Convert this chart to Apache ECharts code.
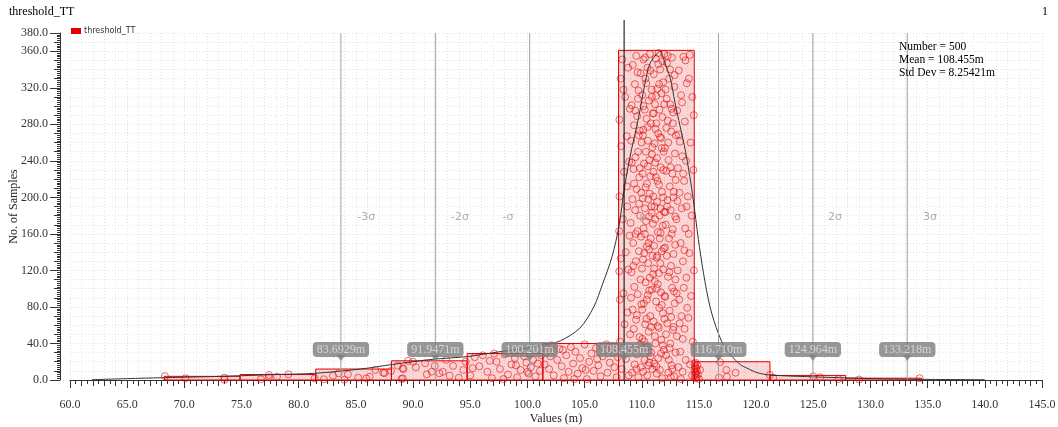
<!DOCTYPE html>
<html>
<head>
<meta charset="utf-8">
<script src="https://cdn.jsdelivr.net/npm/echarts@6/dist/echarts.min.js"></script>
<style>
html,body{margin:0;padding:0;background:#fff;}
#chart{width:1058px;height:427px;}
</style>
</head>
<body>
<div id="chart"></div>
<script>
// ---------------- data ----------------
const chartTitle = 'threshold_TT';
const pageNumber = '1';
const seriesName = 'threshold_TT';
const statsLines = ['Number = 500', 'Mean = 108.455m', 'Std Dev = 8.25421m'];

const binEdges = [68.25, 74.87, 81.49, 88.11, 94.73, 101.35, 107.97, 114.59, 121.21, 127.83, 134.45];
const binCounts = [4, 6, 12, 21, 29, 40, 361, 20, 5, 2];

const sigmaValues = [83.6929, 91.9471, 100.201, 108.455, 116.710, 124.964, 133.218];
const sigmaValueLabels = ['83.6929m', '91.9471m', '100.201m', '108.455m', '116.710m', '124.964m', '133.218m'];
const sigmaNames = ['-3σ', '-2σ', '-σ', 'μ', 'σ', '2σ', '3σ'];
const sigmaNameX = [85.9, 94.1, 98.3, 110.1, 118.4, 126.9, 135.2];
const sigmaNameY = 178;
const sigmaTagY = 33.5;
const sigmaPointerY = 24.0;

const xMin = 60, xMax = 145, xStep = 5;
const yMin = 0, yMax = 380, yStep = 40;

const densityCurve = [
  [61.9,0.3],[65,1.5],[68,2.5],[72,3.6],[75,4.7],[78,6],[81.4,7.3],[85.4,12],[88.2,17],
  [91.75,22.7],[94.7,25.6],[97.6,31],[100,35],[101.4,38],[102.9,43],[104.6,57],[105.8,80],
  [106.6,106],[107.4,135],[108.0,168],[108.5,212],[109.1,252],[109.7,286],[110.3,326],
  [110.7,346],[111.3,357],[111.6,360],[112.0,348],[112.5,330],[112.9,304],[113.35,278],
  [113.8,252],[114.2,223],[114.5,198],[114.95,154],[115.4,117],[115.97,80],[116.7,51],
  [117.4,33],[118.6,17],[119.2,13],[120.1,8],[121.2,5.5],[124.4,3.7],[130.2,1.5],[134.6,0.7],[140,0.3]
];

const samplesLow = [
  [68.3,4.2],[70.1,1.9],[73.5,2.5],[73.5,0.3],
  [76.7,0.8],[77.4,5.5],[77.4,3],[78.1,3.6],[79.1,6.2],[81.4,1.8],
  [82.2,0.8],[83.0,4.7],[83.5,7.3],[84.3,6.2],[85.2,2.6],[85.9,1.8],[86.2,3.6],[86.7,11],[87.4,8],[87.5,7.5],[88.07,9.9],[84.0,0.3],
  [88.66,15.7],[89.0,1.1],[89.15,12],[89.56,21],[89.1,12.8],[89.1,1.8],[90.0,20],[90.25,13.9],[91.05,18.3],[91.63,9.1],
  [91.9,15.4],[92.3,7.3],[92.6,9],[93.2,4.7],[93.5,15.4],[94.0,2.5],[94.4,11],[94.6,20],[91.2,6.2],[92.9,22],
  [95.0,5],[95.4,25],[95.8,15],[96.1,27],[96.5,9],[96.9,2],[97.3,20],[97.6,12],[98.0,28],[98.3,6],[98.6,17],[98.9,24],
  [99.1,3],[99.4,11],[99.7,26],[99.9,19],[100.1,7],[100.3,14],[100.5,22],[100.7,4],[100.9,18],[101.1,10],[101.2,27],
  [95.2,13],[96.7,21],[97.9,1],[99.0,16],[100.0,9],[97.1,29],
  [101.6,30],[101.9,12],[102.1,38],[102.3,5],[102.6,22],[102.8,34],[103.0,15],[103.2,2],[103.4,27],[103.6,9],
  [103.8,36],[104.0,18],[104.2,31],[104.4,7],[104.6,24],[104.8,13],[105.0,39],[105.2,1],[105.4,20],[105.6,29],
  [105.8,10],[106.0,35],[106.2,16],[106.4,4],[106.6,26],[106.8,33],[107.0,8],[107.2,19],[107.4,37],[107.6,14],
  [107.8,3],[107.9,25],[101.5,17],[102.0,26],[103.1,33],[104.1,1],[105.1,11],[106.1,23],[106.9,39],[107.5,30]
];

const samplesPeak = [
  [108.02,163],[108.05,201],[108.03,119],[108.08,88],[108.04,285],[108.1,42],[108.15,330],[108.2,256],[108.25,12],[108.3,351],
  [108.35,176],[108.4,95],[108.45,228],[108.5,61],[108.55,310],[108.6,140],[108.62,23],[108.68,267],[108.72,190],[108.75,74],
  [108.8,342],[108.83,121],[108.86,5],[108.9,239],[108.93,158],[108.96,297],[108.98,50],[108.7,212],[108.4,318],[108.15,133],
  [109.02,172],[109.05,35],[109.08,262],[109.1,118],[109.12,301],[109.15,8],[109.18,198],[109.2,77],[109.22,345],[109.25,150],
  [109.28,231],[109.3,56],[109.32,279],[109.35,102],[109.38,17],[109.4,324],[109.42,186],[109.45,244],[109.48,130],[109.5,66],
  [109.52,355],[109.55,209],[109.58,28],[109.6,289],[109.62,163],[109.65,94],[109.68,250],[109.7,3],[109.72,317],[109.75,141],
  [109.78,222],[109.8,47],[109.82,273],[109.85,180],[109.88,110],[109.9,336],[109.92,14],[109.95,205],[109.97,83],[109.99,260],
  [109.13,238],[109.27,125],[109.43,295],[109.57,71],[109.63,337],[109.77,193],[109.87,39],[109.33,215],[109.47,160],[109.53,12],
  [109.67,308],[109.83,232],[109.06,90],[109.93,157],[109.73,268],
  [110.02,122],[110.04,312],[110.06,45],[110.08,199],[110.1,268],[110.12,9],[110.14,351],[110.16,166],[110.18,84],[110.2,237],
  [110.22,139],[110.24,22],[110.26,296],[110.28,188],[110.3,61],[110.32,330],[110.34,107],[110.36,250],[110.38,174],[110.4,36],
  [110.42,286],[110.44,146],[110.46,215],[110.48,5],[110.5,342],[110.52,93],[110.54,262],[110.56,128],[110.58,198],[110.6,53],
  [110.62,306],[110.64,179],[110.66,19],[110.68,241],[110.7,112],[110.72,357],[110.74,70],[110.76,223],[110.78,155],[110.8,281],
  [110.82,30],[110.84,190],[110.86,318],[110.88,99],[110.9,247],[110.92,12],[110.94,136],[110.96,292],[110.98,171],[110.03,77],
  [110.09,226],[110.15,300],[110.21,42],[110.27,160],[110.33,211],[110.39,325],[110.45,88],[110.51,277],[110.57,16],[110.63,143],
  [110.69,204],[110.75,339],[110.81,58],[110.87,183],[110.93,255],[110.99,116],[110.11,132],[110.29,353],[110.41,67],[110.53,234],
  [110.65,98],[110.77,26],[110.89,310],[110.13,274],[110.59,150],
  [111.01,201],[111.03,64],[111.05,335],[111.07,147],[111.09,18],[111.11,259],[111.13,108],[111.15,302],[111.17,176],[111.19,40],
  [111.21,352],[111.23,222],[111.25,86],[111.27,281],[111.29,134],[111.31,7],[111.33,243],[111.35,195],[111.37,319],[111.39,59],
  [111.41,162],[111.43,270],[111.45,24],[111.47,358],[111.49,117],[111.51,214],[111.53,79],[111.55,296],[111.57,155],[111.59,11],
  [111.61,340],[111.63,188],[111.65,233],[111.67,96],[111.69,265],[111.71,44],[111.73,314],[111.75,141],[111.77,206],[111.79,2],
  [111.81,288],[111.83,169],[111.85,73],[111.87,326],[111.89,121],[111.91,250],[111.93,33],[111.95,184],[111.97,302],[111.99,92],
  [111.02,228],[111.08,122],[111.14,48],[111.2,275],[111.26,311],[111.32,100],[111.38,218],[111.44,346],[111.5,57],[111.56,180],
  [111.62,128],[111.68,29],[111.74,254],[111.8,349],[111.86,200],[111.92,144],[111.98,67],[111.04,292],[111.16,238],[111.28,15],
  [111.4,105],[111.52,324],[111.64,161],[111.76,82],[111.88,230],[111.96,357],[111.12,190],[111.36,136],[111.6,266],[111.84,38],
  [112.02,254],[112.05,91],[112.08,318],[112.1,170],[112.13,27],[112.15,229],[112.18,136],[112.2,347],[112.23,62],[112.25,197],
  [112.28,284],[112.3,113],[112.33,8],[112.35,241],[112.38,155],[112.4,330],[112.43,76],[112.45,212],[112.48,302],[112.5,40],
  [112.53,186],[112.55,125],[112.58,272],[112.6,16],[112.63,353],[112.65,101],[112.68,226],[112.7,165],[112.73,55],[112.75,293],
  [112.78,138],[112.8,206],[112.83,4],[112.85,321],[112.88,84],[112.9,248],[112.93,179],[112.95,30],[112.98,268],[112.04,145],
  [112.12,50],[112.17,308],[112.22,190],[112.32,260],[112.37,22],[112.42,118],[112.47,340],[112.52,233],[112.57,69],[112.62,160],
  [112.67,12],[112.72,281],[112.77,200],[112.82,97],[112.87,334],[112.92,148],[112.97,219],[112.07,184],[112.27,355],[112.44,35],
  [112.61,297],[112.79,58],[112.94,110],[112.14,276],[112.54,3],
  [113.03,176],[113.07,48],[113.1,295],[113.14,120],[113.17,232],[113.2,14],[113.24,339],[113.27,88],[113.3,205],[113.34,261],
  [113.37,31],[113.4,150],[113.44,312],[113.47,70],[113.5,188],[113.54,245],[113.57,9],[113.6,130],[113.64,354],[113.67,101],
  [113.7,218],[113.74,56],[113.77,283],[113.8,166],[113.84,22],[113.87,240],[113.9,112],[113.94,325],[113.97,79],[113.12,196],
  [113.32,62],[113.52,304],[113.72,142],[113.92,190],[113.22,269],[113.42,1],[113.62,226],[113.82,350],[113.05,95],[113.58,45],
  [114.03,201],[114.08,68],[114.12,330],[114.17,139],[114.22,17],[114.27,260],[114.32,92],[114.37,180],[114.42,310],[114.47,42],
  [114.52,230],[114.56,120],[114.2,356],[114.4,5],[114.55,290],[114.1,160]
];

const samplesHigh = [
  [114.6,18],[114.62,12],[114.63,5],[114.65,15],[114.66,9],[114.68,2],[114.7,19],[114.72,7],[114.75,13],[114.78,3],
  [114.82,10],[114.86,16],[114.9,6],[115.0,1],[115.1,11],[116.75,2.5],[116.85,19.6],[117.4,11],[117.45,3.6],[118.2,8],
  [121.2,5.5],[121.5,2.5],[125.0,4],[125.6,3],[127.2,1],
  [129.0,0.5],[134.3,2]
];

// ---------------- chart ----------------
const serif = 'Liberation Serif';
const chart = echarts.init(document.getElementById('chart'), null, {renderer: 'canvas'});

const histData = binCounts.map((c, i) => [binEdges[i], binEdges[i + 1], c]);
const allSamples = samplesLow.concat(samplesPeak, samplesHigh);

const option = {
  animation: false,
  backgroundColor: '#ffffff',
  title: [
    {text: chartTitle, left: 4, top: 1, textStyle: {fontFamily: serif, fontSize: 12, fontWeight: 'normal', color: '#000'}},
    {text: pageNumber, right: 5, top: 1, textStyle: {fontFamily: serif, fontSize: 12, fontWeight: 'normal', color: '#000'}}
  ],
  legend: {
    data: [seriesName], left: 66, top: 22, icon: 'rect', itemWidth: 10, itemHeight: 6, itemGap: 4,
    textStyle: {fontSize: 8, fontFamily: 'DejaVu Sans', color: '#333', padding: [0, 0, 0, -2]}
  },
  graphic: [{
    type: 'text', left: 899, top: 40, z: 100,
    style: {text: statsLines.join('\n'), font: '11.5px "Liberation Serif"', lineHeight: 13, fill: '#000'}
  }],
  grid: {left: 70, right: 16, top: 33, bottom: 47, containLabel: false, outerBoundsMode: 'none'},
  xAxis: [{
    type: 'value', min: xMin, max: xMax, interval: xStep, offset: 7, position: 'bottom',
    name: 'Values (m)', nameLocation: 'middle', nameGap: 26, nameMoveOverlap: false,
    nameTextStyle: {fontFamily: serif, fontSize: 12, color: '#222'},
    axisLine: {show: true, lineStyle: {color: '#333', width: 1}},
    axisTick: {show: true, length: 8, lineStyle: {color: '#333'}},
    minorTick: {show: true, splitNumber: 10, length: 4, lineStyle: {color: '#333'}},
    axisLabel: {formatter: v => v.toFixed(1), fontFamily: serif, fontSize: 12, color: '#333', margin: 12},
    splitLine: {show: true, lineStyle: {type: [1, 2], color: '#c4c4c4'}}
  }, {
    type: 'value', min: xMin, max: xMax, interval: 1, offset: 7, position: 'bottom',
    axisLine: {show: false}, axisLabel: {show: false},
    axisTick: {show: true, length: 6, lineStyle: {color: '#333'}},
    splitLine: {show: true, lineStyle: {type: [1, 2], color: '#e2e2e2'}}
  }],
  yAxis: [{
    type: 'value', min: yMin, max: yMax, interval: yStep, offset: 10, position: 'left',
    name: 'No. of Samples', nameLocation: 'middle', nameGap: 40, nameMoveOverlap: false,
    nameTextStyle: {fontFamily: serif, fontSize: 12, color: '#222'},
    axisLine: {show: true, lineStyle: {color: '#333', width: 1}},
    axisTick: {show: true, length: 10, lineStyle: {color: '#333'}},
    minorTick: {show: true, splitNumber: 20, length: 3, lineStyle: {color: '#333'}},
    axisLabel: {formatter: v => v.toFixed(1), fontFamily: serif, fontSize: 12, color: '#333', margin: 12},
    splitLine: {show: true, lineStyle: {type: [1, 2], color: '#c4c4c4'}}
  }, {
    type: 'value', min: yMin, max: yMax, interval: 10, offset: 10, position: 'left',
    axisLine: {show: false}, axisLabel: {show: false},
    axisTick: {show: true, length: 6, lineStyle: {color: '#333'}},
    splitLine: {show: true, lineStyle: {type: [1, 2], color: '#e2e2e2'}}
  }],
  series: [
    {
      name: seriesName, type: 'custom', z: 2,
      itemStyle: {color: '#e00000'},
      encode: {x: [0, 1], y: 2},
      data: histData,
      renderItem: function (params, api) {
        const p0 = api.coord([api.value(0), 0]);
        const p1 = api.coord([api.value(1), api.value(2)]);
        return {
          type: 'rect',
          shape: {x: p0[0], y: p1[1], width: p1[0] - p0[0], height: p0[1] - p1[1]},
          style: {fill: 'rgba(235,30,30,0.18)', stroke: '#e00000', lineWidth: 1}
        };
      }
    },
    {
      name: 'samples', type: 'scatter', z: 3,
      symbol: 'circle', symbolSize: 7,
      itemStyle: {color: 'rgba(255,0,0,0.03)', borderColor: 'rgba(225,0,0,0.7)', borderWidth: 1},
      data: allSamples
    },
    {
      name: 'density', type: 'line', z: 4, showSymbol: false, smooth: 0.3,
      lineStyle: {color: '#333', width: 1},
      data: densityCurve
    },
    {
      name: 'sigmaLines', type: 'custom', z: 5, clip: false,
      encode: {x: 0},
      data: sigmaValues.map((v, i) => [v, i]),
      renderItem: function (params, api) {
        const isMu = api.value(1) === 3;
        const a = api.coord([api.value(0), yMin]);
        const b = api.coord([api.value(0), yMax]);
        return {
          type: 'line',
          shape: {x1: a[0], y1: a[1], x2: b[0], y2: b[1] - (isMu ? 13 : 0)},
          style: {stroke: isMu ? '#000' : '#a0a0a0', lineWidth: 1}
        };
      }
    },
    {
      name: 'sigmaNames', type: 'scatter', z: 6, symbolSize: 1, itemStyle: {color: 'rgba(0,0,0,0)'},
      data: sigmaNames.map((n, i) => [sigmaNameX[i], sigmaNameY, n]),
      label: {
        show: true, position: 'inside', formatter: p => p.data[2],
        fontFamily: 'DejaVu Sans', fontSize: 11,
        color: '#9a9a9a'
      }
    },
    {
      name: 'sigmaPointers', type: 'scatter', z: 6, symbol: 'triangle', symbolRotate: 180, symbolSize: [9, 6],
      itemStyle: {color: '#7d7d7d'},
      data: sigmaValues.map(v => [v, sigmaPointerY])
    },
    {
      name: 'sigmaTags', type: 'scatter', z: 7, symbolSize: 1, itemStyle: {color: 'rgba(0,0,0,0)'},
      data: sigmaValues.map((v, i) => [v, sigmaTagY, sigmaValueLabels[i]]),
      label: {
        show: true, position: 'inside', formatter: p => p.data[2],
        fontFamily: serif, fontSize: 12, color: '#e6e6e6',
        backgroundColor: '#7d7d7d', borderRadius: 4, padding: [2, 4, 1, 4]
      }
    }
  ]
};
chart.setOption(option);
</script>
</body>
</html>
